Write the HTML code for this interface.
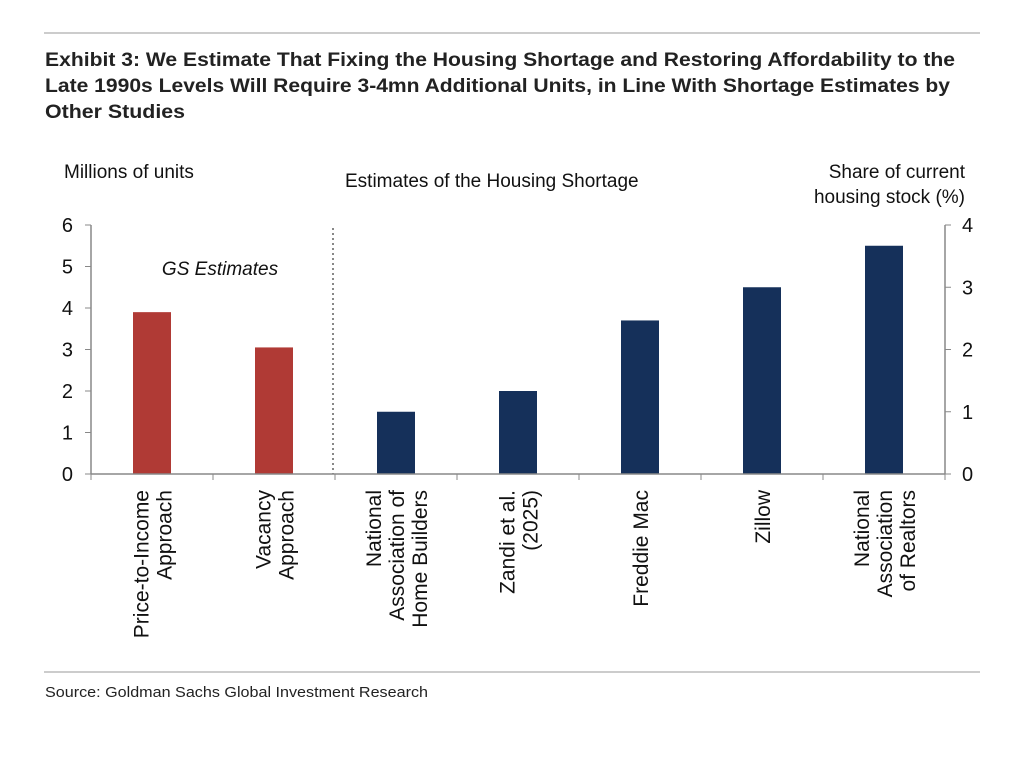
<!DOCTYPE html>
<html><head><meta charset="utf-8"><style>
body{margin:0;background:#fff;width:1010px;height:752px;overflow:hidden;font-family:"Liberation Sans",sans-serif}
</style></head><body>
<svg width="1010" height="752" xmlns="http://www.w3.org/2000/svg">
<line x1="44" y1="33" x2="980" y2="33" stroke="#999" stroke-width="1"/>
<g font-weight="bold" font-size="19" fill="#222" lengthAdjust="spacingAndGlyphs">
<text x="45" y="66" textLength="910" lengthAdjust="spacingAndGlyphs">Exhibit 3: We Estimate That Fixing the Housing Shortage and Restoring Affordability to the</text>
<text x="45" y="92" textLength="905" lengthAdjust="spacingAndGlyphs">Late 1990s Levels Will Require 3-4mn Additional Units, in Line With Shortage Estimates by</text>
<text x="45" y="118" textLength="140" lengthAdjust="spacingAndGlyphs">Other Studies</text>
</g>
<text x="64" y="178" font-size="19" fill="#111">Millions of units</text>
<text x="345" y="187" font-size="19" fill="#111">Estimates of the Housing Shortage</text>
<text x="965" y="178" font-size="19" fill="#111" text-anchor="end"><tspan x="965">Share of current</tspan><tspan x="965" dy="25">housing stock (%)</tspan></text>
<text x="220" y="275" font-size="19" font-style="italic" fill="#111" text-anchor="middle">GS Estimates</text>
<g id="plot"></g>
<line x1="44" y1="672" x2="980" y2="672" stroke="#999" stroke-width="1"/>
<text x="45" y="697" font-size="15" fill="#222" textLength="383" lengthAdjust="spacingAndGlyphs">Source: Goldman Sachs Global Investment Research</text>
</svg>
<script>
const categories=[["Price-to-Income","Approach"],["Vacancy","Approach"],["National","Association of","Home Builders"],["Zandi et al.","(2025)"],["Freddie Mac"],["Zillow"],["National","Association","of Realtors"]];
const values=[3.9,3.05,1.5,2.0,3.7,4.5,5.5];
const isGS=[true,true,false,false,false,false,false];
const leftTicks=[0,1,2,3,4,5,6];
const rightTicks=[0,1,2,3,4];
const NS="http://www.w3.org/2000/svg";
const g=document.getElementById('plot');
const X0=91,X1=945,Y0=474,Y1=225;
const step=(X1-X0)/categories.length;
const yr=v=>Y0-(Y0-Y1)*v/4;
function yl(v){return Y0-(Y0-Y1)*v/6;}
function mk(t,a){const e=document.createElementNS(NS,t);for(const k in a)e.setAttribute(k,a[k]);g.appendChild(e);return e;}
values.forEach((v,i)=>{
 const cx=X0+(i+0.5)*step;
 const r=mk('rect',{x:cx-19,y:yl(v),width:38,height:Y0-yl(v),fill:isGS[i]?'#b03a35':'#15305a'});
 
 
 const t=mk('text',{'font-size':21,fill:'#111','text-anchor':'end',transform:`translate(${cx},490) rotate(-90)`});
 
 
 const n=categories[i].length;
 categories[i].forEach((s,j)=>{const ts=document.createElementNS(NS,'tspan');ts.setAttribute('x',0);ts.setAttribute('y',(j-(n-1)/2)*23+8);ts.textContent=s;t.appendChild(ts);});
});
for(let i=0;i<=categories.length;i++){const l=mk('line',{x1:X0+i*step,x2:X0+i*step,y1:Y0,y2:Y0+6,stroke:'#888'});}
const ax=mk('line',{x1:X0,x2:X1,y1:Y0,y2:Y0,stroke:'#888','stroke-width':1.5});
const la=mk('line',{x1:X0,x2:X0,y1:Y1,y2:Y0,stroke:'#888','stroke-width':1.5});
const ra=mk('line',{x1:X1,x2:X1,y1:Y1,y2:Y0,stroke:'#888','stroke-width':1.5});
leftTicks.forEach(v=>{mk('line',{x1:X0-6,x2:X0,y1:yl(v),y2:yl(v),stroke:'#888'});const t=mk('text',{x:73,y:yl(v)+7,'font-size':20,fill:'#111','text-anchor':'end'});t.textContent=v;});
rightTicks.forEach(v=>{mk('line',{x1:X1,x2:X1+6,y1:yr(v),y2:yr(v),stroke:'#888'});const t=mk('text',{x:962,y:yr(v)+7,'font-size':20,fill:'#111'});t.textContent=v;});
const d=mk('line',{x1:X0+2*step-2,x2:X0+2*step-2,y1:Y1+3,y2:Y0,stroke:'#888','stroke-width':2,'stroke-dasharray':'2,3'});
</script>
</body></html>
